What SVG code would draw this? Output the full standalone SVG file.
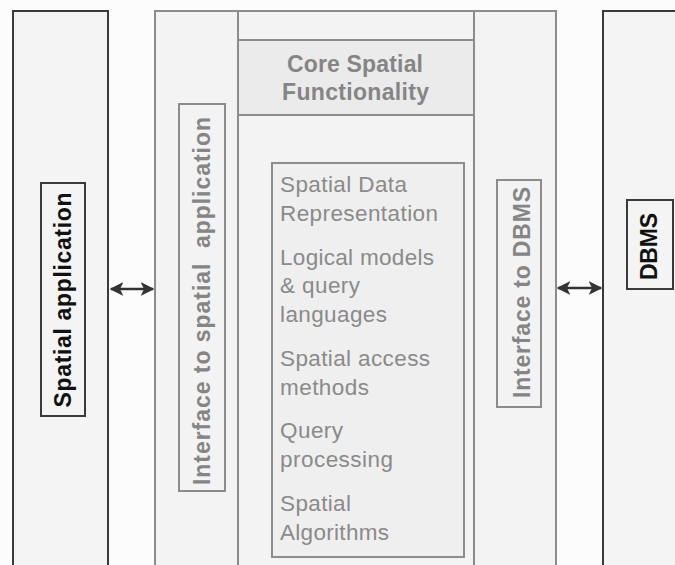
<svg xmlns="http://www.w3.org/2000/svg" width="675" height="565" viewBox="0 0 675 565">
<style>
.dark{fill:#f4f4f4;stroke:#3a3a3a;stroke-width:2}
.grey{fill:#f3f3f3;stroke:#8c8c8c;stroke-width:2}
.lbl{fill:#f3f3f3;stroke:#8c8c8c;stroke-width:2}
.lbld{fill:#f4f4f4;stroke:#3a3a3a;stroke-width:2}
.bt{font-family:"Liberation Sans",Arial,sans-serif;font-weight:bold;font-size:23px}
.gt{fill:#858585}
.kt{fill:#111}
.lt{font-family:"Liberation Sans",Arial,sans-serif;font-size:22.5px;fill:#8a8a8a}
.conn{stroke:#333;stroke-width:2.5;fill:none}
</style>
<defs>
<marker id="ah" viewBox="0 0 10 10" refX="9" refY="5" markerWidth="5.5" markerHeight="5.5" orient="auto-start-reverse" markerUnits="strokeWidth">
<path d="M0,0 L10,5 L0,10 L2.5,5 Z" fill="#333"/>
</marker>
</defs>
<rect x="0" y="0" width="675" height="565" fill="#fcfcfc"/>

<g id="spatial-application">
<rect class="dark" x="13" y="11" width="95" height="570"/>
<rect class="lbld" x="41" y="183" width="44" height="233"/>
<text class="bt kt" transform="translate(71,300) rotate(-90)" text-anchor="middle" textLength="215" lengthAdjust="spacing">Spatial application</text>
</g>

<g id="middle">
<rect class="grey" x="155" y="11" width="401" height="570"/>
<line x1="238" y1="11" x2="238" y2="570" stroke="#8c8c8c" stroke-width="2"/>
<line x1="474" y1="11" x2="474" y2="570" stroke="#8c8c8c" stroke-width="2"/>
</g>

<g id="core-spatial">
<rect x="238" y="40" width="236" height="75" fill="#ebebeb" stroke="#8c8c8c" stroke-width="2"/>
<text class="bt gt" x="355" y="72" text-anchor="middle" textLength="136" lengthAdjust="spacing">Core Spatial</text>
<text class="bt gt" x="355.5" y="100" text-anchor="middle" textLength="147" lengthAdjust="spacing">Functionality</text>
</g>

<g id="interface-spatial">
<rect class="lbl" x="179" y="104" width="46" height="387"/>
<text class="bt gt" transform="translate(210,301) rotate(-90)" text-anchor="middle" textLength="368" lengthAdjust="spacing" xml:space="preserve">Interface to spatial  application</text>
</g>

<g id="functions">
<rect x="272" y="163" width="192" height="394" fill="#efefef" stroke="#8c8c8c" stroke-width="2"/>
<text class="lt" x="280" y="192" textLength="127" lengthAdjust="spacing">Spatial Data</text>
<text class="lt" x="280" y="221" textLength="158" lengthAdjust="spacing">Representation</text>
<text class="lt" x="280" y="265" textLength="154" lengthAdjust="spacing">Logical models</text>
<text class="lt" x="280" y="293" textLength="80" lengthAdjust="spacing">&amp; query</text>
<text class="lt" x="280" y="322" textLength="107" lengthAdjust="spacing">languages</text>
<text class="lt" x="280" y="366" textLength="150" lengthAdjust="spacing">Spatial access</text>
<text class="lt" x="280" y="395" textLength="89" lengthAdjust="spacing">methods</text>
<text class="lt" x="280" y="438" textLength="63" lengthAdjust="spacing">Query</text>
<text class="lt" x="280" y="467" textLength="113" lengthAdjust="spacing">processing</text>
<text class="lt" x="280" y="511" textLength="71" lengthAdjust="spacing">Spatial</text>
<text class="lt" x="280" y="540" textLength="109" lengthAdjust="spacing">Algorithms</text>
</g>

<g id="interface-dbms">
<rect class="lbl" x="497" y="180" width="44" height="227"/>
<text class="bt gt" transform="translate(530,292.5) rotate(-90)" text-anchor="middle" textLength="211" lengthAdjust="spacing">Interface to DBMS</text>
</g>

<g id="dbms">
<rect class="dark" x="603" y="11" width="100" height="570"/>
<rect class="lbld" x="627" y="200" width="46" height="89"/>
<text class="bt kt" transform="translate(657,246.5) rotate(-90)" text-anchor="middle" textLength="67" lengthAdjust="spacing">DBMS</text>
</g>

<g id="connectors">
<line class="conn" x1="111" y1="289" x2="153" y2="289" marker-start="url(#ah)" marker-end="url(#ah)"/>
<line class="conn" x1="558" y1="288" x2="601" y2="288" marker-start="url(#ah)" marker-end="url(#ah)"/>
</g>
</svg>
